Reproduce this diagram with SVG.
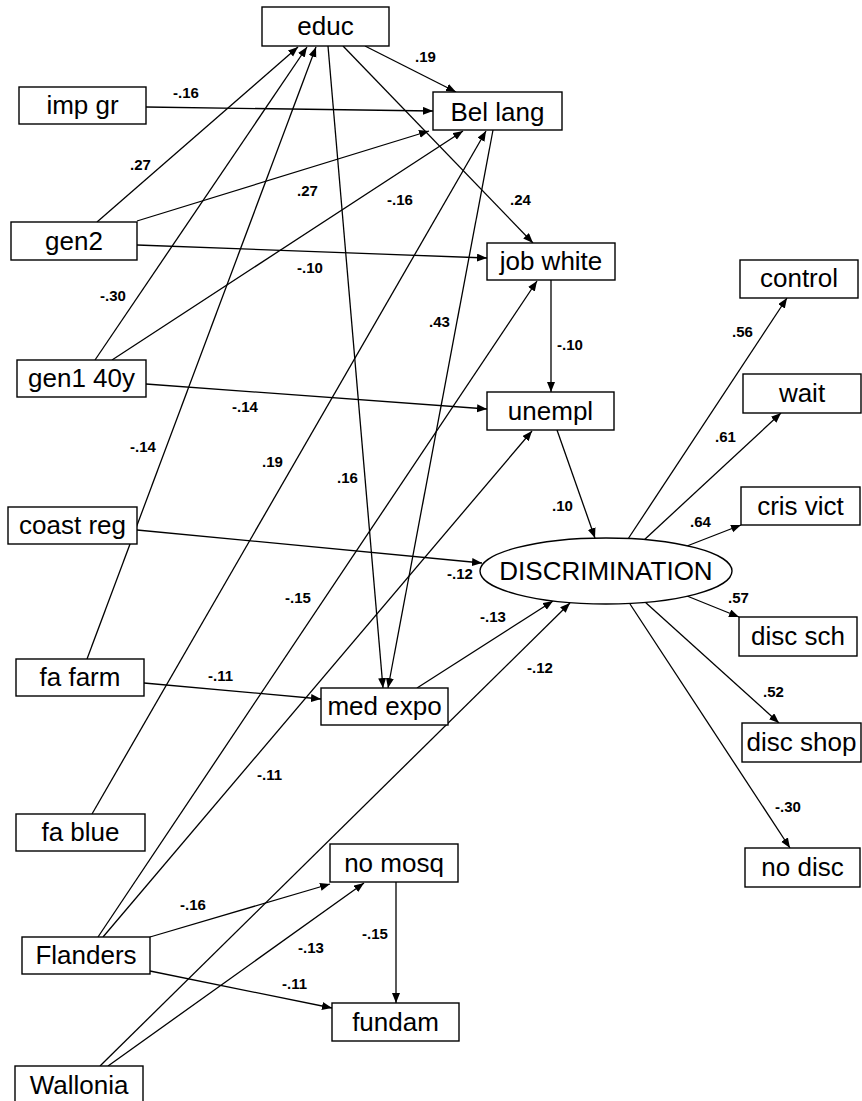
<svg xmlns="http://www.w3.org/2000/svg" width="862" height="1101" viewBox="0 0 862 1101">
<style>
.n rect, .n ellipse { fill: #fff; stroke: #000; stroke-width: 1.4; }
.n text { font-family: "Liberation Sans", Arial, sans-serif; font-size: 26px; fill: #000; text-anchor: middle; }
#connectors line { stroke: #000; stroke-width: 1.3; marker-end: url(#ah); }
.lbl text { font-family: "Liberation Sans", Arial, sans-serif; font-size: 15px; font-weight: bold; fill: #000; }
</style>
<defs>
<marker id="ah" markerUnits="userSpaceOnUse" markerWidth="11" markerHeight="9" refX="10" refY="4" orient="auto">
<path d="M0,0 L10,4 L0,8 Z" fill="#000"/>
</marker>
</defs>
<rect width="862" height="1101" fill="#fff"/>
<g id="connectors">
<line x1="365" y1="46" x2="456" y2="92"/>
<line x1="343" y1="46" x2="533" y2="243"/>
<line x1="328" y1="46" x2="383" y2="688"/>
<line x1="97" y1="222" x2="298" y2="47"/>
<line x1="95" y1="360" x2="307" y2="47"/>
<line x1="87" y1="659" x2="316" y2="47"/>
<line x1="146" y1="107" x2="433" y2="111"/>
<line x1="137" y1="221" x2="429" y2="131"/>
<line x1="112" y1="360" x2="463" y2="131"/>
<line x1="92" y1="814" x2="486" y2="131"/>
<line x1="493" y1="130" x2="388" y2="688"/>
<line x1="137" y1="245" x2="487" y2="258"/>
<line x1="98" y1="937" x2="537" y2="281"/>
<line x1="551" y1="280" x2="551" y2="392"/>
<line x1="146" y1="384" x2="487" y2="409"/>
<line x1="103" y1="937" x2="532" y2="431"/>
<line x1="557" y1="430" x2="595" y2="538"/>
<line x1="137" y1="530" x2="482" y2="563"/>
<line x1="417" y1="688" x2="553" y2="601"/>
<line x1="100" y1="1066" x2="570" y2="603"/>
<line x1="144" y1="683" x2="321" y2="699"/>
<line x1="150" y1="937" x2="330" y2="884"/>
<line x1="108" y1="1066" x2="364" y2="883"/>
<line x1="150" y1="971" x2="332" y2="1008"/>
<line x1="396" y1="882" x2="396" y2="1003"/>
<line x1="628" y1="539" x2="787" y2="298"/>
<line x1="643" y1="541" x2="781" y2="413"/>
<line x1="687" y1="546" x2="741" y2="525"/>
<line x1="687" y1="596" x2="739" y2="617"/>
<line x1="645" y1="602" x2="779" y2="723"/>
<line x1="630" y1="604" x2="790" y2="848"/>
</g>
<g class="lbl">
<text x="415" y="62">.19</text>
<text x="173" y="98">-.16</text>
<text x="130" y="170">.27</text>
<text x="297" y="196">.27</text>
<text x="387" y="205">-.16</text>
<text x="510" y="205">.24</text>
<text x="297" y="273">-.10</text>
<text x="100" y="301">-.30</text>
<text x="429" y="327">.43</text>
<text x="557" y="350">-.10</text>
<text x="732" y="337">.56</text>
<text x="232" y="412">-.14</text>
<text x="130" y="452">-.14</text>
<text x="262" y="467">.19</text>
<text x="337" y="483">.16</text>
<text x="715" y="442">.61</text>
<text x="552" y="511">.10</text>
<text x="690" y="527">.64</text>
<text x="447" y="579">-.12</text>
<text x="285" y="603">-.15</text>
<text x="480" y="622">-.13</text>
<text x="728" y="603">.57</text>
<text x="208" y="681">-.11</text>
<text x="527" y="673">-.12</text>
<text x="763" y="697">.52</text>
<text x="257" y="780">-.11</text>
<text x="775" y="812">-.30</text>
<text x="180" y="910">-.16</text>
<text x="362" y="939">-.15</text>
<text x="298" y="953">-.13</text>
<text x="282" y="989">-.11</text>
</g>
<g id="educ" class="n"><rect x="262" y="7" width="127" height="39"/><text x="325.5" y="35">educ</text></g>
<g id="impgr" class="n"><rect x="19" y="87" width="127" height="37"/><text x="82.5" y="114">imp gr</text></g>
<g id="bellang" class="n"><rect x="433" y="92" width="129" height="38"/><text x="497.5" y="121">Bel lang</text></g>
<g id="gen2" class="n"><rect x="11" y="222" width="126" height="38"/><text x="74" y="250">gen2</text></g>
<g id="jobwhite" class="n"><rect x="487" y="243" width="128" height="37"/><text x="551" y="270">job white</text></g>
<g id="control" class="n"><rect x="740" y="260" width="118" height="38"/><text x="799" y="287">control</text></g>
<g id="gen140y" class="n"><rect x="17" y="360" width="129" height="37"/><text x="81.5" y="387">gen1 40y</text></g>
<g id="unempl" class="n"><rect x="487" y="392" width="127" height="38"/><text x="550.5" y="420">unempl</text></g>
<g id="wait" class="n"><rect x="743" y="374" width="118" height="39"/><text x="802" y="402">wait</text></g>
<g id="crisvict" class="n"><rect x="741" y="487" width="119" height="38"/><text x="800.5" y="515">cris vict</text></g>
<g id="coastreg" class="n"><rect x="8" y="507" width="129" height="37"/><text x="72.5" y="534">coast reg</text></g>
<g id="discrimination" class="n"><ellipse cx="606" cy="571" rx="126" ry="33"/><text x="606" y="580">DISCRIMINATION</text></g>
<g id="discsch" class="n"><rect x="739" y="617" width="118" height="39"/><text x="798" y="645">disc sch</text></g>
<g id="fafarm" class="n"><rect x="16" y="659" width="128" height="37"/><text x="80" y="686">fa farm</text></g>
<g id="medexpo" class="n"><rect x="321" y="688" width="127" height="37"/><text x="384.5" y="715">med expo</text></g>
<g id="discshop" class="n"><rect x="742" y="723" width="119" height="39"/><text x="801.5" y="751">disc shop</text></g>
<g id="fablue" class="n"><rect x="16" y="814" width="129" height="37"/><text x="80.5" y="841">fa blue</text></g>
<g id="nomosq" class="n"><rect x="330" y="844" width="128" height="38"/><text x="394" y="872">no mosq</text></g>
<g id="nodisc" class="n"><rect x="745" y="848" width="115" height="39"/><text x="802.5" y="876">no disc</text></g>
<g id="flanders" class="n"><rect x="22" y="937" width="128" height="37"/><text x="86" y="964">Flanders</text></g>
<g id="fundam" class="n"><rect x="332" y="1003" width="127" height="38"/><text x="395.5" y="1031">fundam</text></g>
<g id="wallonia" class="n"><rect x="15" y="1066" width="128" height="40"/><text x="79" y="1094">Wallonia</text></g>
</svg>
